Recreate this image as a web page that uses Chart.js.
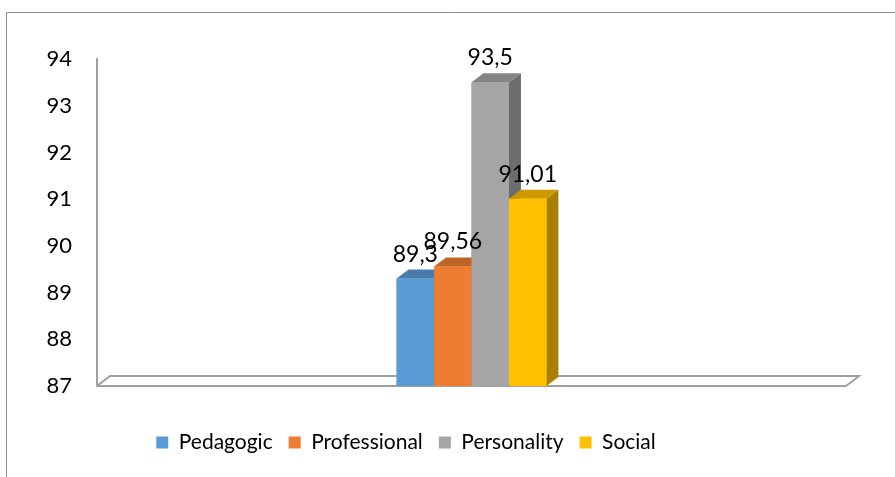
<!DOCTYPE html>
<html>
<head>
<meta charset="utf-8">
<script src="https://cdn.jsdelivr.net/npm/chart.js@4"></script>
<style>
html,body{margin:0;padding:0;background:#fff;}
canvas{display:block;}
</style>
</head>
<body>
<canvas id="c" width="895" height="477"></canvas>
<script>
const categories = [''];
const seriesNames = ['Pedagogic', 'Professional', 'Personality', 'Social'];
const seriesValues = [89.3, 89.56, 93.5, 91.01];
const seriesColors = ['#5b9bd5', '#ed7d31', '#a5a5a5', '#ffc000'];
const yMin = 87, yMax = 94, yStep = 1;

const DX = 12, DY = 9;
function shade(hex, f) {
  const n = parseInt(hex.slice(1), 16);
  const r = Math.round(((n >> 16) & 255) * f), g = Math.round(((n >> 8) & 255) * f), b = Math.round((n & 255) * f);
  return 'rgb(' + r + ',' + g + ',' + b + ')';
}
function fmt(v) { return String(v).replace('.', ','); }

const frame3d = {
  id: 'frame3d',
  afterLayout(chart) {
    const lg = chart.legend;
    if (lg) {
      const shift = 406 - (lg.left + lg.right) / 2;
      lg.left += shift; lg.right += shift;
      if (lg.legendHitBoxes) lg.legendHitBoxes.forEach(h => { h.left += shift; });
    }
  },
  beforeDraw(chart) {
    const ctx = chart.ctx;
    ctx.save();
    ctx.strokeStyle = '#8c8c8c';
    ctx.lineWidth = 1;
    ctx.beginPath();
    ctx.moveTo(6.5, 477); ctx.lineTo(6.5, 12.5); ctx.lineTo(895, 12.5);
    ctx.stroke();
    ctx.restore();
  },
  beforeDatasetsDraw(chart) {
    const ctx = chart.ctx, a = chart.chartArea;
    const L = a.left, R = a.right, B = a.bottom, T = a.top;
    ctx.save();
    ctx.strokeStyle = '#a0a0a0';
    ctx.lineWidth = 2;
    ctx.beginPath();
    ctx.moveTo(L, T - 1); ctx.lineTo(L, B);
    ctx.lineTo(R, B); ctx.lineTo(R + 13, B - 10);
    ctx.lineTo(L + 13, B - 10); ctx.lineTo(L, B);
    ctx.stroke();
    ctx.restore();
  },
  afterDatasetsDraw(chart) {
    const ctx = chart.ctx, a = chart.chartArea;
    ctx.save();
    const els = [];
    chart.data.datasets.forEach((ds, i) => {
      const el = chart.getDatasetMeta(i).data[0];
      const left = el.x - el.width / 2, right = el.x + el.width / 2;
      const top = el.y, bottom = Math.min(el.base, a.bottom);
      const col = ds.backgroundColor;
      ctx.fillStyle = shade(col, 0.66);
      ctx.beginPath();
      ctx.moveTo(right, bottom); ctx.lineTo(right + DX, bottom - DY);
      ctx.lineTo(right + DX, top - DY); ctx.lineTo(right, top); ctx.closePath();
      ctx.fill();
      ctx.fillStyle = shade(col, 0.8);
      ctx.beginPath();
      ctx.moveTo(left, top); ctx.lineTo(left + DX, top - DY);
      ctx.lineTo(right + DX, top - DY); ctx.lineTo(right, top); ctx.closePath();
      ctx.fill();
      ctx.fillStyle = col;
      ctx.fillRect(left, top, right - left, bottom - top);
      els.push({x: el.x, top: top, v: ds.data[0]});
    });
    ctx.fillStyle = '#000';
    ctx.font = '23px Lato';
    ctx.textAlign = 'center';
    ctx.textBaseline = 'alphabetic';
    els.forEach(e => ctx.fillText(fmt(e.v), e.x, e.top - 17));
    ctx.restore();
  }
};

Chart.defaults.font.family = 'Lato';
Chart.defaults.color = '#000';

new Chart(document.getElementById('c'), {
  type: 'bar',
  data: {
    labels: categories,
    datasets: seriesNames.map((n, i) => ({
      label: n,
      data: [seriesValues[i]],
      backgroundColor: seriesColors[i],
      borderWidth: 0
    }))
  },
  options: {
    responsive: false,
    animation: false,
    devicePixelRatio: 1,
    layout: {padding: {left: 7, right: 49, top: 59, bottom: 14}},
    datasets: {bar: {categoryPercentage: 0.2, barPercentage: 1.0}},
    scales: {
      x: {
        grid: {display: false},
        border: {display: false},
        ticks: {display: false},
        afterFit: s => { s.height = 30; }
      },
      y: {
        min: yMin, max: yMax,
        grid: {display: false, drawTicks: false},
        border: {display: false},
        ticks: {stepSize: yStep, padding: 25, font: {size: 22}, color: '#000'},
        afterFit: s => { s.width = 90; }
      }
    },
    plugins: {
      legend: {
        position: 'bottom',
        labels: {boxWidth: 12, boxHeight: 12, padding: 16, font: {size: 21}, color: '#000'}
      },
      tooltip: {enabled: false}
    }
  },
  plugins: [frame3d]
});
</script>
</body>
</html>
